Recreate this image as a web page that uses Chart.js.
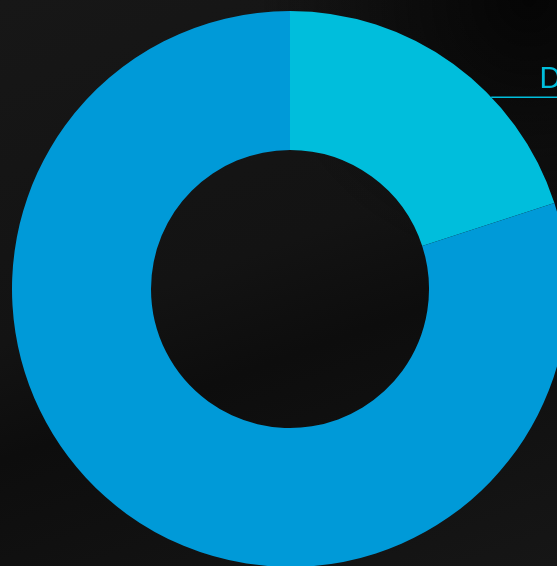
<!DOCTYPE html>
<html lang="en">
  <head>
    <meta charset="UTF-8" />
    <title>Donut</title>
    <script src="https://cdn.jsdelivr.net/npm/chart.js"></script>
    <style>
      html,
      body {
        margin: 0;
        width: 557px;
        height: 566px;
        overflow: hidden;
      }
      body {
        background: radial-gradient(circle at 95% 0%, #050505 0%, rgba(5, 5, 5, 0) 35%),
          linear-gradient(160deg, #171717 0%, #131313 45%, #0d0d0d 60%, #161616 100%);
      }
      #wrap {
        position: absolute;
        left: 0;
        top: 0;
      }
    </style>
  </head>
  <body>
    <div id="wrap"><canvas id="donut" width="580" height="578"></canvas></div>
    <script>
      // data
      const labels = ["D", ""];
      const values = [20, 80];
      const colors = ["#00bedc", "#009ad8"];

      // leader line + label for the first slice
      const sliceLabel = {
        id: "sliceLabel",
        afterDatasetsDraw(chart) {
          const arc = chart.getDatasetMeta(0).data[0];
          const ctx = chart.ctx;
          const r = arc.outerRadius;
          const ly = arc.y - r * 0.69;
          const lx = arc.x + Math.sqrt(r * r - (ly - arc.y) * (ly - arc.y));
          ctx.save();
          ctx.strokeStyle = colors[0];
          ctx.lineWidth = 1.5;
          ctx.beginPath();
          ctx.moveTo(lx, ly);
          ctx.lineTo(chart.width, ly);
          ctx.stroke();
          ctx.fillStyle = colors[0];
          ctx.font = "400 29px Lato, 'Open Sans', sans-serif";
          ctx.textBaseline = "alphabetic";
          ctx.fillText(labels[0], lx + 48, ly - 9);
          ctx.restore();
        },
      };

      new Chart(document.getElementById("donut"), {
        type: "doughnut",
        data: {
          labels: labels,
          datasets: [
            {
              data: values,
              backgroundColor: colors,
              borderWidth: 0,
            },
          ],
        },
        options: {
          responsive: false,
          animation: false,
          cutout: "50%",
          layout: { padding: 11 },
          plugins: {
            legend: { display: false },
            tooltip: { enabled: false },
          },
        },
        plugins: [sliceLabel],
      });
    </script>
  </body>
</html>
